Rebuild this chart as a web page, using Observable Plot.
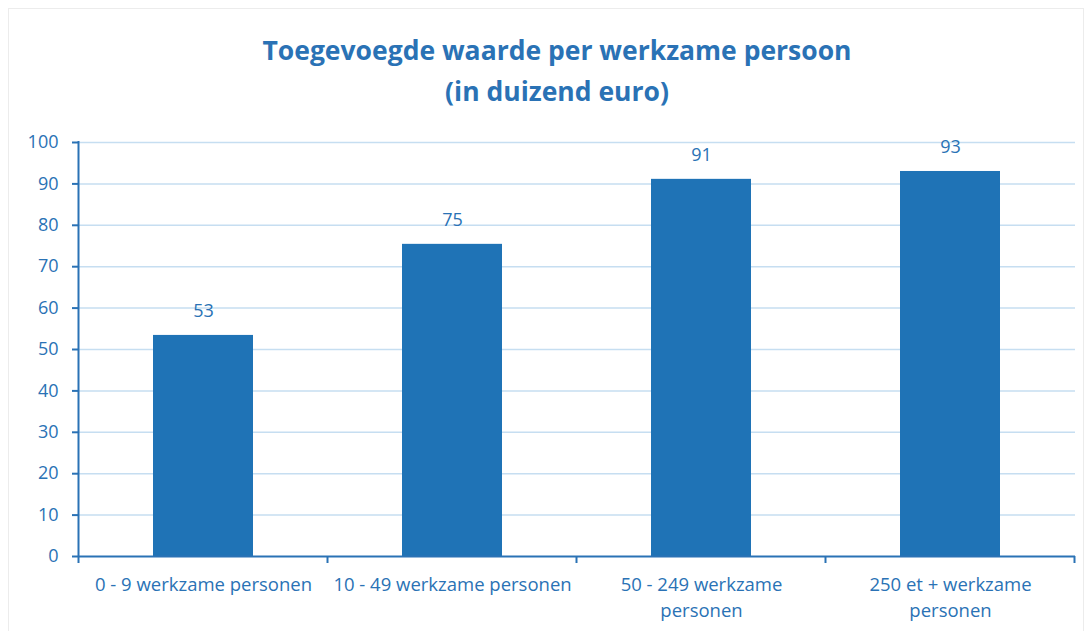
<!DOCTYPE html>
<html>
<head>
<meta charset="utf-8">
<script src="https://cdn.jsdelivr.net/npm/d3@7"></script>
<script src="https://cdn.jsdelivr.net/npm/@observablehq/plot@0.6"></script>
<style>
  html, body { margin: 0; padding: 0; background: #fff; }
  #wrap { position: relative; width: 1092px; height: 631px; overflow: hidden; font-family: "Open Sans", Lato, sans-serif; }
  #frame { position: absolute; left: 8px; top: 8px; width: 1076px; height: 640px; border: 1px solid #ececec; box-sizing: border-box; }
  #title { position: absolute; left: 0; top: 0; width: 1114px; height: 110px; text-align: center; color: #2a72b5; font-weight: 700; font-size: 26.5px; line-height: 41px; padding-top: 30px; box-sizing: border-box; }
  #chart { position: absolute; left: 0; top: 110px; }
</style>
</head>
<body>
<div id="wrap">
  <div id="frame"></div>
  <div id="title">Toegevoegde waarde per werkzame persoon<br>(in duizend euro)</div>
  <div id="chart"></div>
</div>
<script>
const categories = ["0 - 9 werkzame personen", "10 - 49 werkzame personen", "50 - 249 werkzame personen", "250 et + werkzame personen"];
const tickLabels = ["0 - 9 werkzame personen", "10 - 49 werkzame personen", "50 - 249 werkzame\npersonen", "250 et + werkzame\npersonen"];
const values = [53.4, 75.4, 91.1, 93.0];
const valueLabels = ["53", "75", "91", "93"];
const yTicks = [0, 10, 20, 30, 40, 50, 60, 70, 80, 90, 100];

const data = categories.map((c, i) => ({cat: c, value: values[i], label: valueLabels[i]}));

const W = 1092, H = 521, mL = 78, mR = 17, mT = 32, mB = 75;
const textColor = "#2a72b5";
const axisColor = "#2a72b5";
const font = "'Open Sans', Lato, sans-serif";

const chart = Plot.plot({
  width: W,
  height: H,
  marginLeft: mL,
  marginRight: mR,
  marginTop: mT,
  marginBottom: mB,
  style: {fontFamily: font, fontSize: "18px", color: textColor, background: "transparent"},
  x: {domain: categories, paddingInner: 0.6, paddingOuter: 0.3, axis: null},
  y: {domain: [0, 100], axis: null},
  marks: [
    Plot.ruleY(yTicks.filter(d => d > 0), {stroke: "#c6def1", strokeWidth: 1.5}),
    Plot.barY(data, {x: "cat", y: "value", fill: "#1f73b6"}),
    Plot.text(data, {x: "cat", y: "value", text: "label", dy: -24, fill: textColor, fontSize: 18}),
    Plot.axisY({ticks: yTicks, tickSize: 6, tickPadding: 14, stroke: axisColor, strokeWidth: 2, fill: textColor, fontSize: 18, label: null}),
    Plot.axisX({tickSize: 0, tickPadding: 16, tickFormat: (d) => tickLabels[categories.indexOf(d)], fill: textColor, fontSize: 18.5, lineHeight: 1.42, label: null}),
    Plot.ruleY([0], {stroke: axisColor, strokeWidth: 2})
  ]
});
document.getElementById("chart").appendChild(chart);

// y domain line and x-axis band boundary ticks, positioned from the scales
const xs = chart.scale("x"), ys = chart.scale("y");
const stepPx = xs.apply(categories[1]) - xs.apply(categories[0]);
const gap = (stepPx - xs.bandwidth) / 2;
const edges = categories.map(c => xs.apply(c) - gap);
edges.push(xs.apply(categories[categories.length - 1]) + xs.bandwidth + gap);
const svg = d3.select(chart);
const g = svg.append("g").attr("stroke", axisColor).attr("stroke-width", 2);
g.append("line").attr("x1", edges[0]).attr("x2", edges[0]).attr("y1", ys.apply(0) + 1).attr("y2", ys.apply(100) - 1);
g.selectAll(".bt").data(edges).join("line")
  .attr("x1", d => d).attr("x2", d => d)
  .attr("y1", ys.apply(0)).attr("y2", ys.apply(0) + 7);
</script>
</body>
</html>
